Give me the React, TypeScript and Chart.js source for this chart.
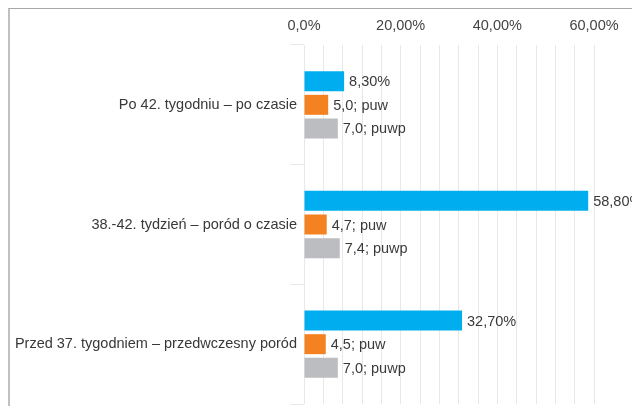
import React, { useEffect, useRef } from "react";
import { Chart, registerables } from "chart.js";

Chart.register(...registerables);

const categories = [
  "Po 42. tygodniu – po czasie",
  "38.-42. tydzień – poród o czasie",
  "Przed 37. tygodniem – przedwczesny poród",
];
const bluePercent = [8.3, 58.8, 32.7];
const orangePuw = [5.0, 4.7, 4.5];
const grayPuwp = [7.0, 7.4, 7.0];
const tickValues = [0, 20, 40, 60];
const tickLabels = ["0,0%", "20,00%", "40,00%", "60,00%"];
const seriesSuffix = ["%", "; puw", "; puwp"];
const seriesDecimals = [2, 1, 1];

const FONT = "'Liberation Sans', Arial, sans-serif";

const labelPlugin = {
  id: "barLabels",
  afterDatasetsDraw(chart: any) {
    const ctx = chart.ctx;
    ctx.save();
    ctx.font = `14.5px ${FONT}`;
    ctx.fillStyle = "#3a3a3a";
    ctx.textAlign = "left";
    ctx.textBaseline = "middle";
    chart.data.datasets.forEach((ds: any, di: number) => {
      const meta = chart.getDatasetMeta(di);
      meta.data.forEach((bar: any, i: number) => {
        const v = ds.data[i] as number;
        const txt = v.toFixed(seriesDecimals[di]).replace(".", ",") + seriesSuffix[di];
        ctx.fillText(txt, bar.x + 5, bar.y + 1);
      });
    });
    ctx.restore();
  },
};

export default function App() {
  const ref = useRef<HTMLCanvasElement | null>(null);
  useEffect(() => {
    if (!ref.current) return;
    const chart = new Chart(ref.current, {
      type: "bar",
      data: {
        labels: categories,
        datasets: [
          { data: bluePercent, backgroundColor: "#00AEEF" },
          { data: orangePuw, backgroundColor: "#F58220" },
          { data: grayPuwp, backgroundColor: "#BCBDC0" },
        ],
      },
      options: {
        indexAxis: "y",
        animation: false,
        responsive: false,
        maintainAspectRatio: false,
        layout: { padding: { left: 10, right: 38, top: 0, bottom: 2 } },
        datasets: { bar: { categoryPercentage: 0.593, barPercentage: 0.845 } },
        plugins: { legend: { display: false }, tooltip: { enabled: false } },
        scales: {
          x: {
            position: "top",
            min: 0,
            max: 60,
            afterFit: (s: any) => {
              s.height = 45;
            },
            border: { display: false },
            grid: { color: "#e8e8e8", drawTicks: false, lineWidth: 1 },
            ticks: {
              stepSize: 4,
              autoSkip: false,
              maxRotation: 0,
              padding: 10,
              color: "#444",
              font: { family: FONT, size: 14.5 },
              callback: (v: any) => {
                const idx = tickValues.indexOf(Number(v));
                return idx >= 0 ? tickLabels[idx] : "";
              },
            },
          },
          y: {
            afterFit: (s: any) => {
              s.width = 294;
            },
            border: { display: false },
            grid: {
              drawOnChartArea: false,
              drawTicks: true,
              tickLength: 14,
              color: "#e8e8e8",
            },
            ticks: {
              padding: -7,
              color: "#383838",
              font: { family: FONT, size: 14.5 },
            },
          },
        },
      },
      plugins: [labelPlugin],
    } as any);
    return () => chart.destroy();
  }, []);
  return (
    <div style={{ position: "fixed", left: 0, top: 0, width: 632, height: 406, background: "#fff" }}>
      <canvas ref={ref} width={632} height={406} style={{ position: "absolute", left: 0, top: 0 }} />
      <div
        style={{
          position: "absolute",
          left: 8,
          top: 8,
          right: 0,
          bottom: 0,
          borderTop: "1px solid #a8a8a8",
          borderLeft: "2px solid #c0c0c0",
          pointerEvents: "none",
        }}
      />
    </div>
  );
}
